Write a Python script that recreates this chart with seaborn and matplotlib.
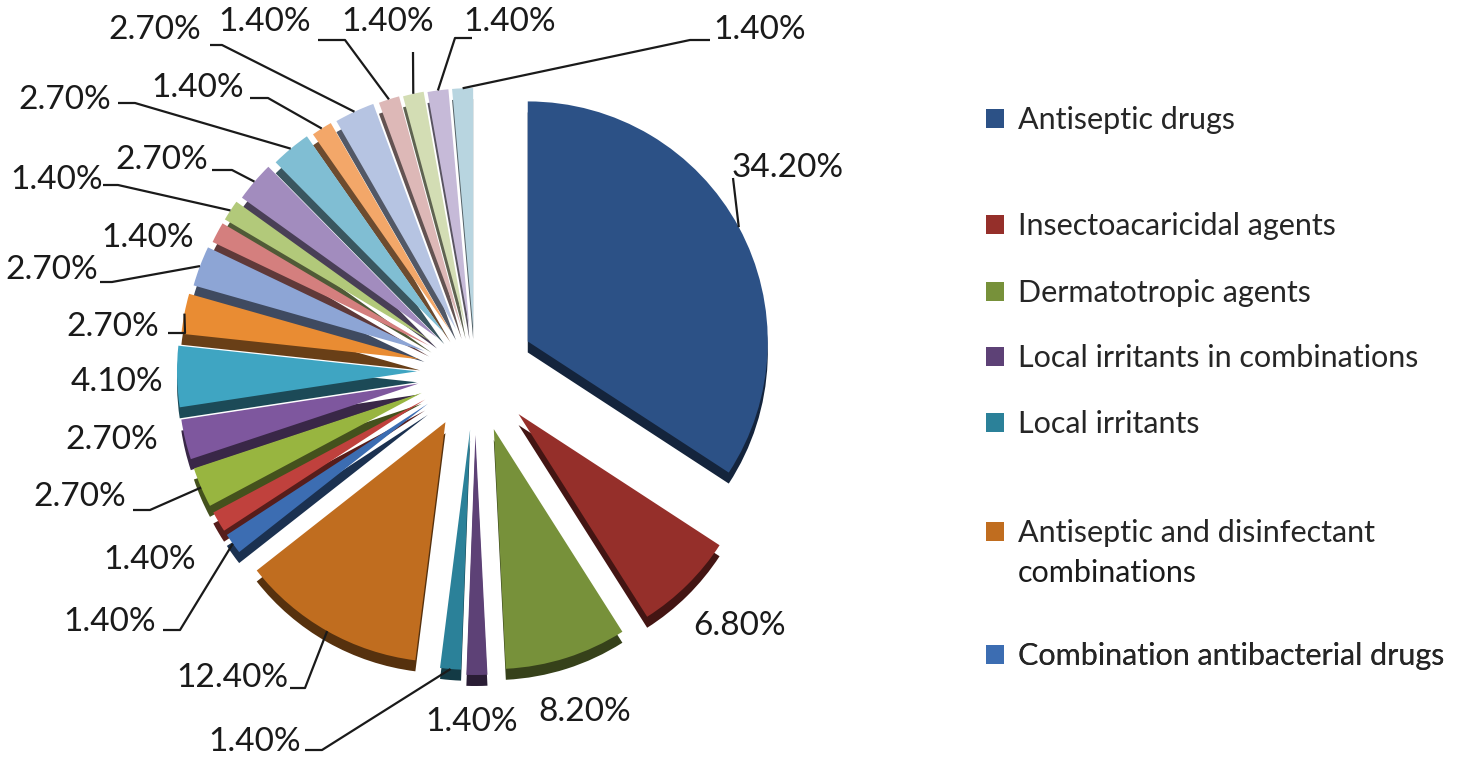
import seaborn as sns
import matplotlib.pyplot as plt
import matplotlib.colors as mcolors
import numpy as np

# legend categories (only the first seven are named in the chart)
categories = ['Antiseptic drugs', 'Insectoacaricidal agents', 'Dermatotropic agents',
              'Local irritants in combinations', 'Local irritants',
              'Antiseptic and disinfectant\ncombinations',
              'Combination antibacterial drugs']

# percentage of each slice, clockwise from 12 o'clock
shares = [34.2, 6.8, 8.2, 1.4, 1.4, 12.4,
          1.4, 1.4, 2.7, 2.7, 4.1, 2.7,
          2.7, 1.4, 1.4, 2.7, 2.7, 1.4,
          2.7, 1.4, 1.4, 1.4, 1.4]

colors = ['#2C5186', '#952F2A', '#77913A', '#5D4176', '#2B8199', '#C06D1F',
          '#3C6DB2', '#C0413D', '#98B540', '#7E579E', '#3FA5C2', '#E98C33',
          '#8DA5D5', '#D47F7E', '#B2C97A', '#A28CBE', '#80BED3', '#F3A769',
          '#B6C4E2', '#DDB8B7', '#D3DDB4', '#C6BAD8', '#B8D5E0']

# layout (pixels)
explode = [60, 62, 62, 65, 60, 60,
           58, 58, 58, 58, 58, 56,
           54, 52, 52, 50, 48, 46,
           45, 44, 43, 42, 42]
cx, cy, R = 475, 370, 240
depth = 11

label_pos = [(788, 168), (740, 626), (585, 712), (472, 722), (255, 742),
             (232, 678), (110, 622), (150, 560), (80, 497), (112, 440),
             (117, 382), (113, 327), (52, 270), (148, 238), (57, 180),
             (162, 160), (65, 100), (198, 88), (155, 30), (265, 22),
             (388, 22), (510, 22), (760, 30)]
# leader: (elbow x, elbow y, stub end x) or None
leaders = [(733, 178, 733), None, None, None, (322, 750, 305),
           (305, 688, 290), (180, 630, 163), None, (150, 510, 133), None,
           None, (185, 333, 168), (112, 282, 100), None, (118, 185, 103),
           (232, 170, 212), (135, 103, 118), (268, 98, 250), (222, 45, 210),
           (345, 40, 318), (413, 52, 413), (455, 38, 472), (690, 40, 710)]

legend_y = [120, 226, 293, 358, 424, 533, 656]
line_gap = 40

sns.set_theme(style='white')
plt.rcParams['font.family'] = ['Lato', 'DejaVu Sans']

fig = plt.figure(figsize=(14.62, 7.64), dpi=100)
ax = fig.add_axes([0, 0, 1, 1])

shade = [tuple(np.array(mcolors.to_rgb(c)) * 0.45) for c in colors]
ax.pie(shares, explode=explode, colors=shade, radius=R, center=(cx, cy + depth),
       startangle=270, counterclock=True, wedgeprops=dict(linewidth=0))
wedges, _ = ax.pie(shares, explode=explode, colors=colors, radius=R,
                   center=(cx, cy), startangle=270, counterclock=True,
                   wedgeprops=dict(linewidth=0))

ax.set_xlim(0, 1462)
ax.set_ylim(764, 0)
ax.set_aspect('equal')
ax.axis('off')

for w, val, pos, ld in zip(wedges, shares, label_pos, leaders):
    ax.text(pos[0], pos[1], f'{val:.2f}%', ha='center', va='center',
            fontsize=24, color='#1a1a1a')
    if ld is None:
        continue
    mid = np.deg2rad((w.theta1 + w.theta2) / 2)
    px = w.center[0] + w.r * np.cos(mid)
    py = w.center[1] + w.r * np.sin(mid)
    ax.plot([px, ld[0], ld[2]], [py, ld[1], ld[1]], color='#1a1a1a', lw=1.6,
            solid_capstyle='butt')

for w, name, ly in zip(wedges[:7], categories, legend_y):
    lines = name.split('\n')
    lg = ax.legend([w], [lines[0]], loc='center left', bbox_to_anchor=(986, ly),
                   bbox_transform=ax.transData, frameon=False, fontsize=22,
                   borderpad=0, borderaxespad=0, handlelength=0.6,
                   handleheight=0.6, handletextpad=0.45)
    ax.add_artist(lg)
    for k, extra in enumerate(lines[1:], start=1):
        ax.text(1018, ly + k * line_gap, extra, ha='left', va='center',
                fontsize=22, color='#1a1a1a')

fig.savefig('out.png', dpi=100)
